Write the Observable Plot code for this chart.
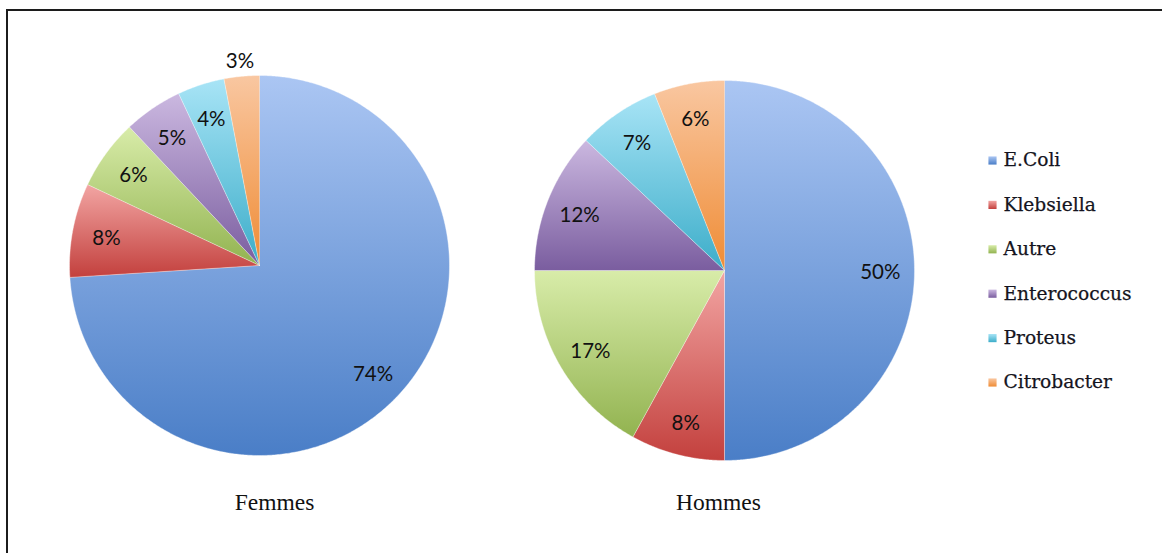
<!DOCTYPE html>
<html>
<head>
<meta charset="utf-8">
<script src="https://cdn.jsdelivr.net/npm/d3@7"></script>
<script src="https://cdn.jsdelivr.net/npm/@observablehq/plot@0.6"></script>
<style>
  html, body { margin: 0; padding: 0; background: #fff; }
  #wrap { position: relative; width: 1162px; height: 553px; overflow: hidden; }
  #frame { position: absolute; left: 6px; top: 9px; width: 1300px; height: 700px;
           border-top: 2px solid #1c1c1c; border-left: 2px solid #1c1c1c; box-sizing: border-box; }
  #chart { position: absolute; left: 0; top: 0; }
</style>
</head>
<body>
<div id="wrap"><div id="frame"></div><div id="chart"></div></div>
<script>
// ---- data ----
const categories = ["E.Coli", "Klebsiella", "Autre", "Enterococcus", "Proteus", "Citrobacter"];
const groups = ["Femmes", "Hommes"];
const femmes = [74, 8, 6, 5, 4, 3];
const hommes = [50, 8, 17, 12, 7, 6];
const colorTop = ["#abc6f3", "#f2a5a3", "#d8eca9", "#cbb8e0", "#a8e4f6", "#f9c7a1"];
const colorBottom = ["#4a7ec7", "#c3403d", "#92b350", "#7a5d9f", "#3cadc9", "#ef8c35"];

// ---- layout ----
const W = 1162, H = 553;
const pies = [
  {cx: 259, cy: 265, r: 190, titleX: 274, titleY: 502},
  {cx: 724, cy: 270, r: 190, titleX: 718, titleY: 502}
];
const legendLayout = {x: 992, y0: 160, dy: 44.4, textDx: 11};

const series = [femmes, hommes];
const slicePts = [];
const labels = [];
series.forEach((vals, gi) => {
  const p = pies[gi];
  const arcs = d3.pie().sort(null).startAngle(0).endAngle(2 * Math.PI)(vals);
  arcs.forEach((a, i) => {
    const key = gi + "-" + i;
    slicePts.push({key, cat: i, x: p.cx, y: p.cy});
    const n = Math.max(2, Math.ceil((a.endAngle - a.startAngle) / (Math.PI / 360)));
    for (let k = 0; k <= n; k++) {
      const t = a.startAngle + (a.endAngle - a.startAngle) * k / n;
      slicePts.push({key, cat: i, x: p.cx + p.r * Math.sin(t), y: p.cy - p.r * Math.cos(t)});
    }
    const mid = (a.startAngle + a.endAngle) / 2;
    const lr = a.data < 4 ? p.r * 1.09 : p.r * 0.82;
    labels.push({x: p.cx + lr * Math.sin(mid), y: p.cy - lr * Math.cos(mid) + 2, text: a.data + "%"});
  });
});

const titles = groups.map((g, gi) => ({x: pies[gi].titleX, y: pies[gi].titleY, text: g}));
const legend = categories.map((c, i) => ({x: legendLayout.x, y: legendLayout.y0 + i * legendLayout.dy, text: c, cat: i}));

const marks = [];
categories.forEach((c, i) => {
  marks.push(Plot.line(slicePts.filter(d => d.cat === i), {
    x: "x", y: "y", z: "key", fill: `url(#g${i})`, stroke: "#ffffff", strokeWidth: 0.4, curve: "linear"
  }));
  marks.push(Plot.dot(legend.filter(d => d.cat === i), {
    x: "x", y: "y", symbol: "square", r: 4.6, fill: `url(#g${i})`, stroke: "none"
  }));
});
marks.push(Plot.text(labels, {x: "x", y: "y", text: "text", fontSize: 20.5, fill: "#111",
  fontFamily: "Lato, 'Open Sans', sans-serif"}));
marks.push(Plot.text(titles, {x: "x", y: "y", text: "text", fontSize: 23.5, fill: "#111",
  fontFamily: "'Liberation Serif', 'Times New Roman', serif"}));
marks.push(Plot.text(legend, {x: d => d.x + legendLayout.textDx, y: "y", text: "text", textAnchor: "start",
  fontSize: 18.6, fill: "#141420", stroke: "#141420", strokeWidth: 0.25, fontFamily: "'DejaVu Serif', serif"}));

const svg = Plot.plot({
  width: W, height: H,
  margin: 0,
  x: {domain: [0, W], range: [0, W], axis: null},
  y: {domain: [0, H], range: [0, H], axis: null},
  style: {background: "transparent", overflow: "visible"},
  marks
});

const defs = d3.select(svg).insert("defs", ":first-child");
categories.forEach((c, i) => {
  const g = defs.append("linearGradient").attr("id", "g" + i)
    .attr("x1", 0).attr("y1", 0).attr("x2", 0).attr("y2", 1);
  g.append("stop").attr("offset", "0%").attr("stop-color", colorTop[i]);
  g.append("stop").attr("offset", "100%").attr("stop-color", colorBottom[i]);
});

document.getElementById("chart").appendChild(svg);
</script>
</body>
</html>
